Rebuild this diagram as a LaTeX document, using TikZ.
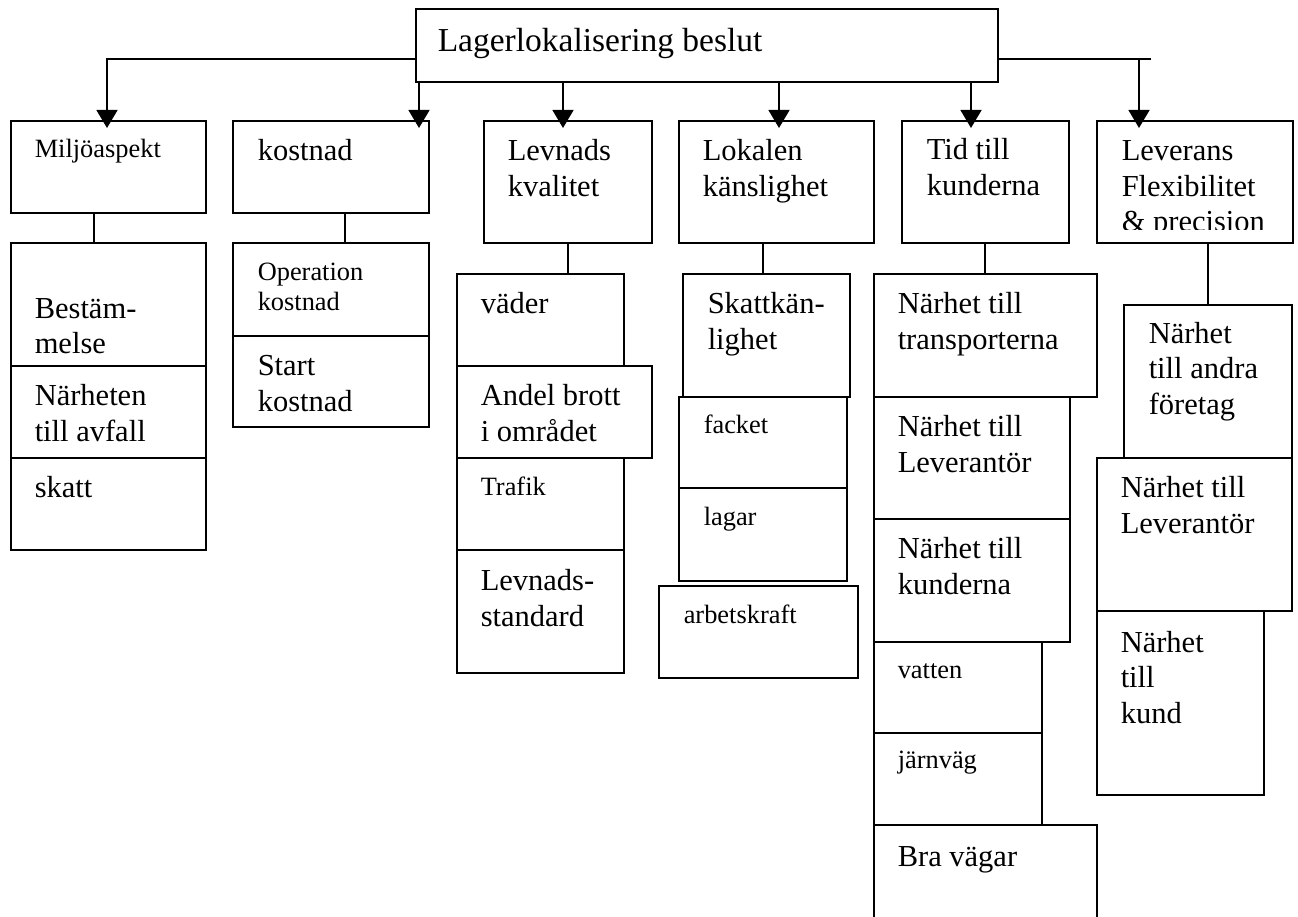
\documentclass[tikz,border=0pt]{standalone}
\usepackage{fontspec}
\setmainfont{Liberation Serif}
\usetikzlibrary{arrows.meta}

% box given by its corners (x1,y1) and (x2,y2), y growing downwards
\newcommand\bx[5]{\node[bx, minimum width={#4-#2}, minimum height={#5-#3}, anchor=north west] (#1) at (#2,#3) {};}
% text block whose last baseline starts at (x,y)
\newcommand\tx[5][txt]{\node[#1, anchor=base west] (#2) at (#3,#4) {#5};}

\begin{document}
\begin{tikzpicture}[x=1pt, y=-1pt, line width=1.5pt,
  bx/.style={draw, rectangle, inner sep=0pt, outer sep=0pt},
  txt/.style={inner sep=0pt, align=left, font=\fontsize{30.5}{35.5}\selectfont},
  small/.style={txt, font=\fontsize{26.4}{30}\selectfont},
  big/.style={txt, font=\fontsize{33.5}{40}\selectfont},
  arr/.style={-{Triangle[width=21pt,length=18pt]}}]
\useasboundingbox (0,0) rectangle (1298,917);
\clip (0,0) rectangle (1298,917);

% root
\bx{top}{416}{9}{998}{82}
\tx[big]{top-t}{437}{52}{Lagerlokalisering beslut}

% first level
\bx{milj}{11}{121}{206}{213}
\bx{kost}{233}{121}{429}{213}
\bx{levn}{484}{121}{652}{243}
\bx{lokal}{679}{121}{874}{243}
\bx{tid}{902}{121}{1069}{243}
\bx{lev}{1097}{121}{1293}{243}
\tx[small]{milj-t}{34}{158}{Miljöaspekt}
\tx{kost-t}{257}{161}{kostnad}
\tx{levn-t}{507}{196.5}{Levnads\\kvalitet}
\tx{lokal-t}{702}{196.5}{Lokalen\\känslighet}
\tx{tid-t}{926}{195.5}{Tid till\\kunderna}
\begin{scope}
  \clip (lev.north west) rectangle ([yshift=13pt]lev.south east);
  \tx{lev-t}{1121}{232}{Leverans\\Flexibilitet\\\& precision}
\end{scope}

% arrows from the root
\coordinate (hl) at (107,59);
\coordinate (hr) at (1151,59);
\coordinate (hr6) at (1139,59);
\coordinate (a1) at (107,128);
\coordinate (a2) at (419,128);
\coordinate (a3) at (563,128);
\coordinate (a4) at (779,128);
\coordinate (a5) at (971,128);
\coordinate (a6) at (1139,128);
\draw[arr] (top.west |- hl) -- (hl) -- (a1);
\draw (top.east |- hr) -- (hr);
\draw[arr] (hr6) -- (a6);
\draw[arr] (top.south -| a2) -- (a2);
\draw[arr] (top.south -| a3) -- (a3);
\draw[arr] (top.south -| a4) -- (a4);
\draw[arr] (top.south -| a5) -- (a5);

% Miljöaspekt column
\bx{best}{11}{243}{206}{366}
\bx{narh}{11}{366}{206}{458}
\bx{skatt}{11}{458}{206}{550}
\tx{best-t}{34}{353.5}{Bestäm-\\melse}
\tx{narh-t}{34}{441}{Närheten\\till avfall}
\tx{skatt-t}{34}{497}{skatt}

% kostnad column
\bx{oper}{233}{243}{429}{336}
\bx{start}{233}{336}{429}{427}
\tx[small]{oper-t}{257}{310}{Operation\\kostnad}
\tx{start-t}{257}{411}{Start\\kostnad}

% Levnads kvalitet column
\bx{vader}{457}{274}{624}{366}
\bx{andel}{457}{366}{652}{458}
\bx{trafik}{457}{458}{624}{550}
\bx{lstd}{457}{550}{624}{673}
\tx{vader-t}{480}{313}{väder}
\tx{andel-t}{480}{441}{Andel brott\\i området}
\tx[small]{trafik-t}{480}{495}{Trafik}
\tx{lstd-t}{480}{626}{Levnads-\\standard}

% Lokalen känslighet column
\bx{skattk}{683}{274}{850}{397}
\bx{facket}{679}{397}{847}{488}
\bx{lagar}{679}{488}{847}{581}
\bx{arbets}{659}{586}{858}{678}
\tx{skattk-t}{707}{349}{Skattkän-\\lighet}
\tx[small]{facket-t}{703}{433}{facket}
\tx[small]{lagar-t}{703}{525}{lagar}
\tx[small]{arbets-t}{683}{623}{arbetskraft}

% Tid till kunderna column
\bx{transp}{874}{274}{1097}{397}
\bx{levtor}{874}{397}{1070}{519}
\bx{kunder}{874}{519}{1070}{642}
\bx{vatten}{874}{642}{1042}{733}
\bx{jarnv}{874}{733}{1042}{825}
\bx{bra}{874}{825}{1097}{940}
\tx{transp-t}{897}{349}{Närhet till\\transporterna}
\tx{levtor-t}{897}{472}{Närhet till\\Leverantör}
\tx{kunder-t}{897}{594}{Närhet till\\kunderna}
\tx[small]{vatten-t}{897}{678}{vatten}
\tx[small]{jarnv-t}{897}{768}{järnväg}
\tx{bra-t}{897}{866}{Bra vägar}

% Leverans column
\bx{andra}{1124}{305}{1292}{458}
\bx{levtor2}{1097}{458}{1292}{611}
\bx{kund}{1097}{611}{1264}{795}
\tx{andra-t}{1148}{414}{Närhet\\till andra\\företag}
\tx{levtor2-t}{1120}{533}{Närhet till\\Leverantör}
\tx{kund-t}{1120}{723}{Närhet\\till\\kund}

% links from each heading to its list
\coordinate (c1) at (94,0);
\coordinate (c2) at (345,0);
\coordinate (c3) at (568,0);
\coordinate (c4) at (763,0);
\coordinate (c5) at (985,0);
\coordinate (c6) at (1208,0);
\draw (milj.south -| c1) -- (best.north -| c1);
\draw (kost.south -| c2) -- (oper.north -| c2);
\draw (levn.south -| c3) -- (vader.north -| c3);
\draw (lokal.south -| c4) -- (skattk.north -| c4);
\draw (tid.south -| c5) -- (transp.north -| c5);
\draw (lev.south -| c6) -- (andra.north -| c6);
\end{tikzpicture}
\end{document}
